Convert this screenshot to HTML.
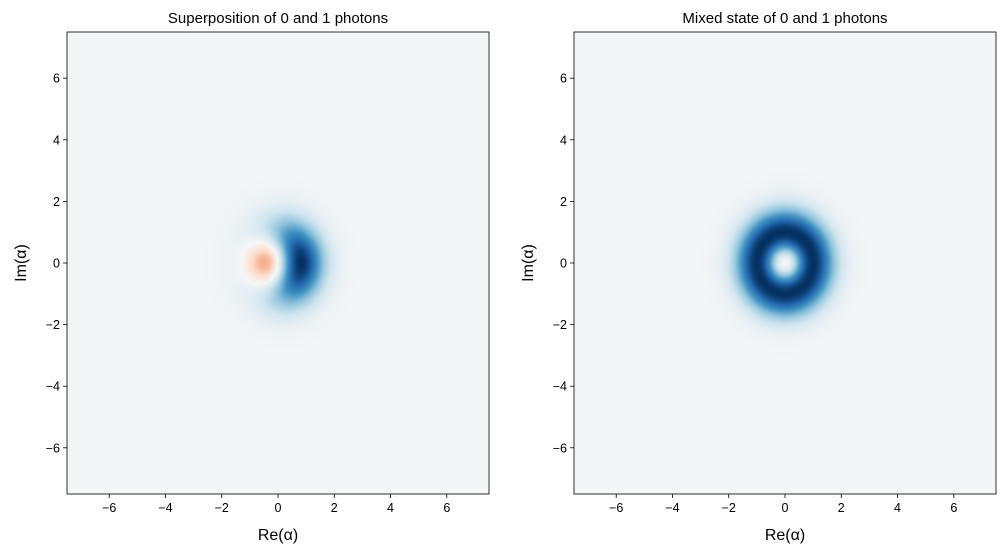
<!DOCTYPE html>
<html><head><meta charset="utf-8"><style>
body{margin:0;background:#fff;width:1005px;height:553px;overflow:hidden;font-family:"Liberation Sans","DejaVu Sans",sans-serif}
</style></head><body>
<svg id="svg" width="1005" height="553" xmlns="http://www.w3.org/2000/svg" style="position:absolute;left:0;top:0">
<foreignObject x="67" y="32" width="422" height="462"><canvas xmlns="http://www.w3.org/1999/xhtml" id="c1" width="422" height="462"></canvas></foreignObject>
<foreignObject x="574" y="32" width="422" height="462"><canvas xmlns="http://www.w3.org/1999/xhtml" id="c2" width="422" height="462"></canvas></foreignObject>
<g id="axes"></g>
</svg>
<script>
// Wigner data: state density-matrix coefficients (Fock basis 0,1)
const superRho = [[0.5,0.5],[0.5,0.5]];
const mixedRho = [[0.5,0],[0,0.5]];
const xTicks = [-6,-4,-2,0,2,4,6];
const yTicks = [-6,-4,-2,0,2,4,6];
const titles = ["Superposition of 0 and 1 photons","Mixed state of 0 and 1 photons"];
const range = [-7.5,7.5];

const cmap=["#67001f","#b2182b","#d6604d","#f4a582","#fddbc7","#f7f7f7","#d1e5f0","#92c5de","#4393c3","#2166ac","#053061"].map(h=>[1,3,5].map(i=>parseInt(h.substr(i,2),16)));
function col(t){t=Math.max(0,Math.min(1,t));const f=t*10,i=Math.min(9,Math.floor(f)),u=f-i;return cmap[i].map((c,k)=>c+(cmap[i+1][k]-c)*u);}
function W(rho,x,p){const r2=x*x+p*p,e=Math.exp(-r2)/Math.PI;
  return e*(rho[0][0]*1+rho[1][1]*(2*r2-1)+2*Math.SQRT2*x*rho[0][1]);}
function draw(id,rho){
  const c=document.getElementById(id),ctx=c.getContext('2d'),w=c.width,h=c.height;
  const img=ctx.createImageData(w,h);let mx=0;const vals=new Float32Array(w*h);
  for(let j=0;j<h;j++)for(let i=0;i<w;i++){const x=range[0]+(i+0.5)/w*15,p=range[1]-(j+0.5)/h*15;const v=W(rho,x,p);vals[j*w+i]=v;if(Math.abs(v)>mx)mx=Math.abs(v);}
  for(let k=0;k<w*h;k++){const v=vals[k]/mx;const t=v>=0?0.51+0.49*v:0.51+0.51*v;const cc=col(t);img.data[k*4]=cc[0];img.data[k*4+1]=cc[1];img.data[k*4+2]=cc[2];img.data[k*4+3]=255;}
  ctx.putImageData(img,0,0);
}
draw('c1',superRho);draw('c2',mixedRho);

const NS="http://www.w3.org/2000/svg",g=document.getElementById('axes');
function el(t,a,txt){const e=document.createElementNS(NS,t);for(const k in a)e.setAttribute(k,a[k]);if(txt!==undefined)e.textContent=txt;g.appendChild(e);return e;}
[67,574].forEach((L,pi)=>{
  const T=32,W_=422,H=462;
  const sx=v=>L+(v-range[0])/15*W_, sy=v=>T+(range[1]-v)/15*H;
  const fr=el('rect',{x:L,y:T,width:W_,height:H,fill:'none',stroke:'#000','stroke-width':0.8});
  
  xTicks.forEach(v=>{const X=sx(v);
    const l=el('line',{x1:X,x2:X,y1:T+H,y2:T+H+4,stroke:'#000','stroke-width':0.8});
    
    const t=el('text',{x:X,y:T+H+18,'font-size':12.5,'text-anchor':'middle'},v<0?'−'+(-v):String(v));
    });
  yTicks.forEach(v=>{const Y=sy(v);
    const l=el('line',{x1:L-4,x2:L,y1:Y,y2:Y,stroke:'#000','stroke-width':0.8});
    
    const t=el('text',{x:L-7,y:Y+4.5,'font-size':12.5,'text-anchor':'end'},v<0?'−'+(-v):String(v));
    });
  const tt=el('text',{x:L+W_/2,y:T-9,'font-size':15,'text-anchor':'middle'},titles[pi]);
  
  const xl=el('text',{x:L+W_/2,y:540,'font-size':16,'text-anchor':'middle'},'Re(α)');
  
  const yl=el('text',{x:0,y:0,'font-size':16,'text-anchor':'middle',transform:`translate(${L-41},${T+H/2}) rotate(-90)`},'Im(α)');
  
});
</script>
</body></html>
